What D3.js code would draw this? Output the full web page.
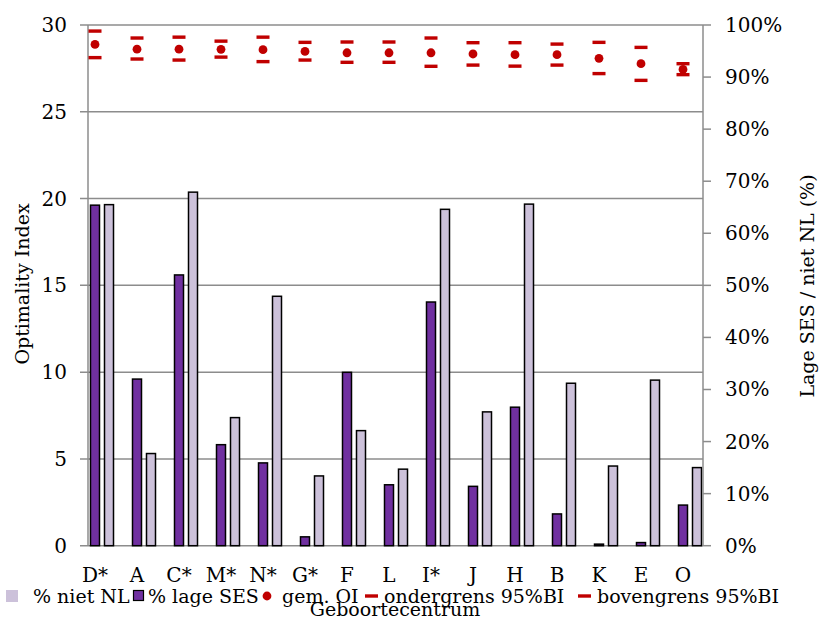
<!DOCTYPE html>
<html>
<head>
<meta charset="utf-8">
<script src="https://cdn.jsdelivr.net/npm/d3@7"></script>
<style>
  body { margin: 0; background: #fff; }
  text { font-family: "DejaVu Serif", serif; fill: #000; }
</style>
</head>
<body>
<div id="chart"></div>
<script>
// categories (geboortecentra)
var centra = ["D*", "A", "C*", "M*", "N*", "G*", "F", "L", "I*", "J", "H", "B", "K", "E", "O"];
// gemiddelde OI en 95% BI
var gemOI      = [28.88, 28.61, 28.61, 28.60, 28.58, 28.48, 28.40, 28.40, 28.40, 28.33, 28.29, 28.29, 28.08, 27.77, 27.44];
var ondergrens = [28.12, 28.04, 27.98, 28.15, 27.89, 27.98, 27.85, 27.85, 27.62, 27.69, 27.63, 27.69, 27.20, 26.81, 27.14];
var bovengrens = [29.65, 29.25, 29.30, 29.07, 29.30, 29.00, 29.02, 29.02, 29.25, 28.98, 28.98, 28.90, 29.00, 28.71, 27.77];
// percentages
var lageSES = [65.4, 32.0, 52.0, 19.4, 15.9, 1.7, 33.3, 11.7, 46.8, 11.4, 26.6, 6.1, 0.3, 0.6, 7.8];
var nietNL  = [65.5, 17.7, 67.9, 24.6, 47.9, 13.4, 22.1, 14.7, 64.6, 25.7, 65.6, 31.2, 15.3, 31.8, 15.0];
// ticks
var leftTicks = [0, 5, 10, 15, 20, 25, 30];
var rightTicks = [0, 10, 20, 30, 40, 50, 60, 70, 80, 90, 100];

var W = 819, H = 619;
var plotL = 88, plotR = 703, plotT = 25, plotB = 545.7;
var red = "#c00000", purple = "#7030a0", lilac = "#ccc1da", grid = "#8c8c8c";

var svg = d3.select("#chart").append("svg")
    .attr("width", W)
    .attr("height", H);

var x = d3.scaleBand().domain(centra).range([74, 704]);
var cx = function(d) { return x(d) + x.bandwidth() / 2; };
var y = d3.scaleLinear().domain([0, 30]).range([plotB, plotT]);
var y2 = d3.scaleLinear().domain([0, 100]).range([plotB, plotT]);

// gridlines + left ticks
svg.append("g").selectAll("line")
    .data(leftTicks)
    .enter().append("line")
    .attr("x1", plotL - 8).attr("x2", plotR)
    .attr("y1", function(d) { return y(d); })
    .attr("y2", function(d) { return y(d); })
    .attr("stroke", grid)
    .attr("stroke-width", 1.5);

svg.append("g").selectAll("text")
    .data(leftTicks)
    .enter().append("text")
    .attr("x", 67)
    .attr("y", function(d) { return y(d) + 7; })
    .attr("text-anchor", "end")
    .style("font-size", "20px")
    .text(function(d) { return d; });

// bars
var bars = svg.append("g");
bars.selectAll(".ses")
    .data(centra)
    .enter().append("rect")
    .attr("class", "ses")
    .attr("x", function(d) { return cx(d) - 4.5; })
    .attr("y", function(d, i) { return y2(lageSES[i]); })
    .attr("width", 9)
    .attr("height", function(d, i) { return plotB - y2(lageSES[i]); })
    .attr("fill", purple)
    .attr("stroke", "#000")
    .attr("stroke-width", 1.5);

bars.selectAll(".nl")
    .data(centra)
    .enter().append("rect")
    .attr("class", "nl")
    .attr("x", function(d) { return cx(d) + 9.5; })
    .attr("y", function(d, i) { return y2(nietNL[i]); })
    .attr("width", 9)
    .attr("height", function(d, i) { return plotB - y2(nietNL[i]); })
    .attr("fill", lilac)
    .attr("stroke", "#000")
    .attr("stroke-width", 1.5);

// axis lines
svg.append("line")
    .attr("x1", plotL).attr("x2", plotL)
    .attr("y1", plotT).attr("y2", plotB)
    .attr("stroke", grid).attr("stroke-width", 1.5);
svg.append("line")
    .attr("x1", plotR).attr("x2", plotR)
    .attr("y1", plotT).attr("y2", plotB)
    .attr("stroke", grid).attr("stroke-width", 1.5);

// right axis ticks
svg.append("g").selectAll("line")
    .data(rightTicks)
    .enter().append("line")
    .attr("x1", plotR).attr("x2", plotR + 8)
    .attr("y1", function(d) { return y2(d); })
    .attr("y2", function(d) { return y2(d); })
    .attr("stroke", grid)
    .attr("stroke-width", 1.5);

svg.append("g").selectAll("text")
    .data(rightTicks)
    .enter().append("text")
    .attr("x", 725)
    .attr("y", function(d) { return y2(d) + 7; })
    .style("font-size", "20px")
    .text(function(d) { return d + "%"; });

// category labels
svg.append("g").selectAll("text")
    .data(centra)
    .enter().append("text")
    .attr("x", function(d) { return cx(d); })
    .attr("y", 582)
    .attr("text-anchor", "middle")
    .style("font-size", "20px")
    .text(function(d) { return d; });

// error bar marks + dots
var ci = svg.append("g");
ci.selectAll(".lo")
    .data(centra)
    .enter().append("rect")
    .attr("class", "lo")
    .attr("x", function(d) { return cx(d) - 6.5; })
    .attr("y", function(d, i) { return y(ondergrens[i]) - 1.7; })
    .attr("width", 13).attr("height", 3.4)
    .attr("fill", red);
ci.selectAll(".hi")
    .data(centra)
    .enter().append("rect")
    .attr("class", "hi")
    .attr("x", function(d) { return cx(d) - 6.5; })
    .attr("y", function(d, i) { return y(bovengrens[i]) - 1.7; })
    .attr("width", 13).attr("height", 3.4)
    .attr("fill", red);
ci.selectAll("circle")
    .data(centra)
    .enter().append("circle")
    .attr("cx", function(d) { return cx(d); })
    .attr("cy", function(d, i) { return y(gemOI[i]); })
    .attr("r", 4.4)
    .attr("fill", red);

// axis titles
svg.append("text")
    .attr("transform", "translate(29,284) rotate(-90)")
    .attr("text-anchor", "middle")
    .style("font-size", "19px")
    .text("Optimality Index");

svg.append("text")
    .attr("transform", "translate(814,286) rotate(-90)")
    .attr("text-anchor", "middle")
    .style("font-size", "19px")
    .text("Lage SES / niet NL (%)");

svg.append("text")
    .attr("x", 395)
    .attr("y", 616)
    .attr("text-anchor", "middle")
    .style("font-size", "19px")
    .text("Geboortecentrum");

// legend
var lg = svg.append("g");
lg.append("rect").attr("x", 6).attr("y", 590).attr("width", 12).attr("height", 12).attr("fill", lilac);
lg.append("text").attr("x", 33).attr("y", 603).style("font-size", "19px").text("% niet NL");
lg.append("rect").attr("x", 133.5).attr("y", 590.5).attr("width", 10).attr("height", 10)
    .attr("fill", purple).attr("stroke", "#000").attr("stroke-width", 1.2);
lg.append("text").attr("x", 148).attr("y", 603).style("font-size", "19px").text("% lage SES");
lg.append("circle").attr("cx", 267).attr("cy", 596).attr("r", 4.4).attr("fill", red);
lg.append("text").attr("x", 282).attr("y", 603).style("font-size", "19px").text("gem. OI");
lg.append("rect").attr("x", 365).attr("y", 594.3).attr("width", 13).attr("height", 3.4).attr("fill", red);
lg.append("text").attr("x", 384).attr("y", 603).style("font-size", "19px").text("ondergrens 95%BI");
lg.append("rect").attr("x", 578).attr("y", 594.3).attr("width", 13).attr("height", 3.4).attr("fill", red);
lg.append("text").attr("x", 597).attr("y", 603).style("font-size", "19px").text("bovengrens 95%BI");
</script>
</body>
</html>
